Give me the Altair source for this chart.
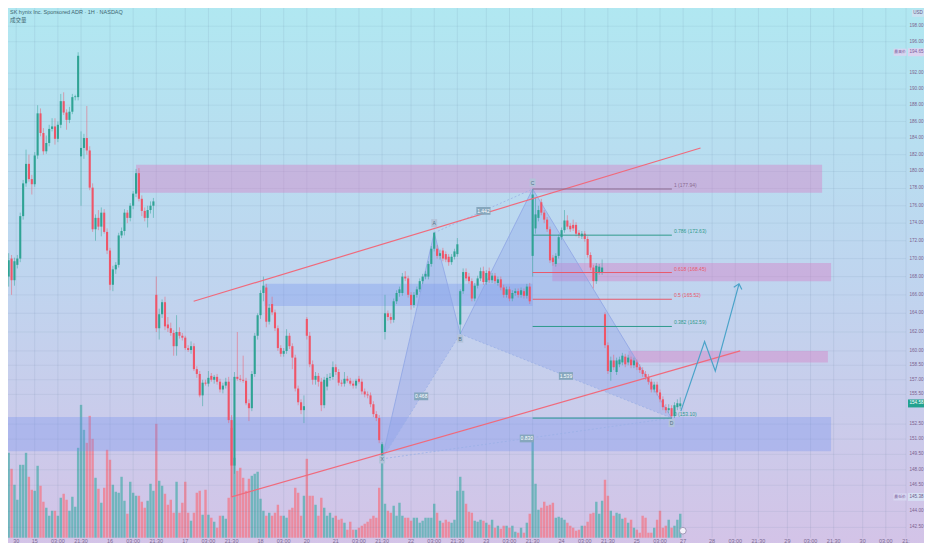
import math
import altair as alt
import pandas as pd

W, H = 916, 537
X_DOMAIN = [-0.92, 311.71]
Y_DOMAIN = [141.54, 201.27]
FONT = "Liberation Sans"
CJK = "Noto Sans CJK SC"

# ---------------- candles (open, high, low, close) ----------------
ohlc_a = [
    (168.0, 170.6, 166.9, 169.8), (170.0, 170.4, 166.0, 167.6), (167.6, 170.1, 167.0, 169.7),
    (169.3, 170.4, 168.9, 170.0), (170.0, 175.2, 169.6, 174.8), (174.8, 179.0, 174.4, 178.6),
    (178.6, 182.6, 178.2, 180.9), (180.9, 182.0, 178.8, 179.1), (179.1, 179.6, 177.3, 178.5),
    (178.5, 182.3, 178.2, 181.9), (181.9, 188.0, 181.5, 187.0), (187.0, 187.6, 184.2, 184.6),
    (184.6, 185.2, 182.0, 182.4), (182.4, 184.3, 182.1, 183.4), (183.4, 185.6, 183.0, 185.1),
    (185.1, 186.4, 184.8, 185.4), (185.4, 186.4, 183.2, 183.9), (183.9, 186.0, 183.5, 185.6),
    (185.6, 189.4, 185.2, 188.5), (188.5, 189.6, 186.8, 187.1), (187.1, 187.5, 185.0, 186.2),
    (186.2, 187.8, 185.8, 187.2), (187.2, 189.4, 186.9, 189.0), (189.0, 189.3, 188.6, 189.1),
    (189.0, 194.65, 188.6, 194.2),
]
ohlc_b = [
    (181.8, 184.8, 176.0, 182.8), (182.8, 184.5, 181.5, 184.0), (184.0, 187.9, 182.0, 182.5),
    (182.5, 183.0, 177.8, 178.1), (178.1, 178.6, 173.0, 173.3), (173.3, 175.0, 172.0, 174.6),
    (174.6, 175.5, 173.2, 173.6), (173.6, 175.8, 172.5, 175.2), (175.2, 175.6, 172.8, 173.0),
    (173.0, 173.4, 170.5, 170.9), (170.9, 171.2, 166.5, 167.1), (167.1, 169.2, 166.4, 168.8),
    (168.8, 169.6, 168.3, 169.3), (169.3, 172.9, 169.0, 172.6), (172.6, 173.5, 172.3, 173.1),
    (173.1, 175.6, 172.6, 175.2), (175.2, 175.5, 174.0, 174.6), (174.6, 176.3, 174.2, 176.0),
    (176.0, 177.7, 175.6, 177.4), (177.4, 180.3, 177.0, 179.8), (179.8, 180.4, 176.5, 176.8),
    (176.8, 177.2, 174.8, 175.4), (175.4, 175.8, 174.2, 174.6), (174.6, 176.0, 173.5, 175.5),
    (175.5, 176.5, 175.1, 176.0), (176.0, 176.9, 174.6, 176.5),
]
ohlc_c = [
    (166.0, 168.0, 162.0, 162.4), (162.4, 164.5, 161.2, 163.9), (163.9, 165.5, 163.5, 165.2),
    (165.2, 165.8, 162.2, 162.6), (162.8, 163.6, 162.0, 162.4), (162.4, 163.0, 161.6, 161.9),
    (161.9, 162.2, 159.5, 160.5), (160.5, 163.8, 159.5, 162.0), (162.0, 162.5, 161.3, 161.6),
    (161.6, 161.9, 161.1, 161.4), (161.4, 161.6, 160.1, 160.3), (160.3, 160.6, 159.9, 160.1),
    (160.1, 161.0, 159.7, 160.5), (160.5, 160.8, 157.9, 158.1), (158.1, 158.4, 157.2, 157.6),
    (157.6, 157.9, 155.2, 155.4), (155.4, 157.0, 154.3, 156.7), (156.7, 157.0, 156.4, 156.6),
    (156.6, 157.9, 156.3, 157.2), (157.4, 157.7, 156.8, 157.0), (157.0, 157.5, 156.6, 157.3),
    (157.3, 157.6, 156.5, 156.8), (156.8, 157.1, 155.7, 156.0), (156.0, 156.7, 155.6, 156.4),
    (156.4, 157.2, 156.1, 156.8),
]
ohlc_d = [
    (156.8, 157.3, 152.6, 152.9), (152.9, 153.4, 145.38, 148.4), (148.4, 157.8, 147.6, 157.3),
    (157.3, 162.0, 156.9, 157.1), (157.1, 157.5, 156.8, 157.0), (157.0, 159.5, 156.7, 156.9),
    (156.9, 157.2, 154.4, 154.6), (154.6, 155.0, 152.8, 154.1), (154.1, 157.9, 153.8, 157.6),
    (157.6, 161.9, 157.3, 161.6), (161.6, 164.0, 161.2, 163.8), (163.8, 166.5, 163.4, 166.2),
    (166.2, 168.0, 165.3, 167.0), (166.8, 167.2, 162.5, 163.1), (163.1, 165.0, 162.8, 164.6),
    (165.0, 165.8, 163.8, 164.1), (164.1, 164.4, 162.1, 162.4), (162.4, 162.7, 160.0, 160.3),
    (160.3, 160.6, 159.4, 159.7), (159.7, 160.3, 159.4, 160.0), (160.0, 162.3, 159.7, 161.6),
    (161.6, 161.9, 160.2, 160.5), (160.5, 160.8, 158.1, 159.3), (159.3, 159.6, 155.8, 156.1),
    (156.1, 156.4, 154.4, 154.7), (154.7, 155.0, 153.5, 153.9), (153.9, 155.4, 152.6, 154.3),
]
ohlc_e = [
    (163.4, 163.6, 161.2, 161.6), (161.6, 162.0, 158.3, 158.6), (158.6, 159.0, 156.5, 157.0),
    (157.0, 157.8, 156.5, 157.4), (157.4, 157.7, 156.3, 156.8), (156.8, 157.2, 153.8, 154.4),
    (154.4, 157.3, 154.1, 157.0), (156.3, 157.6, 155.9, 157.2), (157.2, 157.7, 156.9, 157.3),
    (157.3, 158.9, 157.0, 158.3), (158.3, 158.6, 157.5, 157.8), (157.8, 158.1, 156.4, 156.7),
    (156.7, 157.0, 156.3, 156.6), (156.6, 157.8, 156.3, 157.1), (157.1, 157.4, 156.7, 156.9),
    (156.9, 157.2, 156.4, 156.6), (156.6, 156.9, 156.1, 156.4), (156.4, 157.1, 156.1, 156.9),
    (157.1, 157.4, 156.6, 156.8), (156.8, 157.1, 155.5, 155.8), (155.8, 156.1, 155.2, 155.5),
    (155.5, 155.8, 155.1, 155.4), (155.4, 155.7, 154.2, 154.5), (154.5, 154.8, 153.2, 153.5),
    (153.5, 153.8, 152.8, 153.1), (153.1, 153.4, 150.6, 150.9), (149.3, 150.7, 149.06, 150.5),
]
ohlc_f = [
    (162.0, 166.0, 161.2, 164.0), (164.0, 164.3, 163.2, 163.6), (163.6, 164.0, 162.9, 163.3),
    (163.3, 165.6, 163.0, 165.3), (165.3, 166.5, 165.0, 166.2), (166.2, 166.9, 165.8, 166.6),
    (166.2, 168.4, 165.9, 168.0), (168.0, 168.6, 167.5, 167.8), (167.8, 168.1, 165.7, 166.0),
    (166.0, 166.3, 164.4, 164.9), (164.9, 166.3, 164.6, 166.0), (166.0, 166.9, 165.7, 166.6),
    (166.6, 167.8, 166.3, 167.5), (167.5, 168.3, 167.2, 168.0), (168.0, 168.6, 167.7, 168.3),
    (168.0, 169.7, 167.7, 169.4), (169.4, 171.4, 169.1, 171.1), (171.1, 173.0, 170.8, 172.9),
    (171.1, 171.5, 170.0, 170.3), (170.3, 171.0, 169.9, 170.6), (170.9, 171.2, 169.7, 170.0),
    (170.5, 170.8, 169.6, 169.9), (170.2, 170.5, 169.2, 169.6), (169.6, 170.5, 169.3, 170.2),
    (170.2, 171.1, 169.9, 170.8), (170.5, 172.3, 170.2, 171.6), (162.8, 166.6, 161.8, 166.4),
    (166.4, 168.9, 166.1, 168.5), (168.5, 168.9, 167.5, 167.8), (168.0, 168.4, 167.2, 167.5),
    (167.5, 167.8, 165.3, 165.6), (165.6, 167.3, 165.3, 167.0), (167.0, 168.1, 166.7, 167.8),
    (167.8, 169.0, 167.5, 168.6), (168.6, 169.1, 167.1, 167.4), (167.4, 168.7, 167.1, 168.4),
    (168.6, 169.0, 167.3, 167.6), (167.6, 168.4, 167.3, 168.1), (168.1, 168.4, 167.2, 167.5),
    (167.3, 168.0, 167.0, 167.7), (167.7, 168.0, 166.5, 166.8), (166.8, 167.1, 165.7, 166.0),
    (166.0, 166.9, 165.7, 166.6), (166.6, 166.9, 165.3, 165.6), (165.6, 166.5, 165.3, 166.2),
    (166.2, 166.7, 165.9, 166.4), (166.4, 166.7, 165.7, 166.0), (166.0, 166.8, 165.7, 166.5),
    (166.4, 166.7, 165.6, 165.9), (165.9, 167.2, 165.6, 166.9), (166.9, 167.3, 165.0, 165.3),
    (170.3, 177.94, 168.0, 177.3),
]
ohlc_g = [
    (173.4, 176.9, 172.8, 175.0), (174.6, 176.0, 174.2, 175.5), (176.4, 176.8, 174.9, 175.2),
    (175.2, 175.5, 174.0, 174.4), (174.4, 174.7, 173.0, 173.3), (173.3, 173.6, 169.5, 169.8),
    (170.1, 170.4, 169.2, 169.6), (169.4, 170.6, 169.1, 170.3), (170.3, 172.7, 170.0, 172.4),
    (172.4, 173.5, 172.1, 173.2), (173.2, 175.5, 172.9, 174.3), (174.3, 174.9, 173.3, 173.6),
    (173.7, 174.0, 173.0, 173.3), (173.8, 174.4, 173.1, 173.4), (173.8, 174.1, 172.5, 172.8),
    (172.9, 173.2, 172.3, 172.6), (172.5, 173.1, 172.2, 172.8), (172.8, 173.1, 171.9, 172.2),
    (172.2, 172.5, 170.1, 170.4), (170.4, 170.7, 168.7, 169.0), (169.0, 169.3, 166.7, 167.5),
    (167.5, 169.5, 167.2, 169.2), (168.5, 169.4, 168.2, 169.1), (168.5, 169.9, 168.2, 169.0),
    (163.9, 164.1, 160.3, 160.6),
]
ohlc_h = [
    (160.6, 160.9, 157.6, 157.9), (157.8, 159.4, 156.9, 159.0), (159.0, 159.6, 158.0, 158.3),
    (157.8, 159.3, 157.5, 159.0), (158.6, 159.4, 158.3, 159.1), (158.8, 159.8, 158.5, 159.5),
    (159.4, 159.7, 158.3, 158.6), (158.8, 159.6, 158.5, 159.3), (159.1, 159.4, 158.2, 158.5),
    (158.5, 159.3, 158.2, 159.0), (158.8, 159.1, 158.0, 158.3), (158.3, 158.6, 157.7, 158.0),
    (158.0, 158.3, 157.3, 157.6), (157.6, 157.9, 157.0, 157.3), (157.3, 157.6, 156.5, 156.8),
    (156.8, 157.1, 155.7, 156.0), (156.0, 156.8, 155.7, 156.5), (156.5, 156.8, 155.4, 155.7),
    (155.7, 156.0, 154.7, 155.0), (155.0, 155.3, 153.9, 154.2), (154.2, 154.5, 153.6, 153.9),
    (153.9, 154.5, 153.6, 154.1), (154.1, 154.4, 153.1, 153.3), (153.3, 154.7, 153.1, 154.4),
    (154.2, 155.0, 153.9, 154.6), (154.3, 155.2, 154.0, 154.58),
]

# ---------------- volume (relative units) ----------------
vol_a = [85, 69, 53, 38, 73, 73, 85, 61, 48, 47, 72, 52, 36, 30, 22, 27, 27, 22, 40, 44, 38, 27, 41, 31, 90,
         133, 108, 95, 122, 99, 60, 49, 35, 50, 88, 78, 53, 46, 45, 61, 37, 24, 56, 45, 42, 42, 36, 30, 37, 54, 47]
vol_b = [114, 57, 52, 44, 33, 38, 25, 56, 25, 35, 56, 25, 17, 25, 45, 47, 23, 48, 23, 20, 16, 10, 22, 22, 19]
vol_c = [40, 110, 80]
vol_d = [67, 70, 60, 47, 59, 62, 64, 66, 39, 27, 22, 25, 22, 25, 33, 22, 22, 20, 28, 30, 50, 45, 22, 42, 79,
         42, 42, 33, 22, 40, 30, 22, 25, 20, 22, 18, 19, 15, 8, 16, 8, 8, 10, 12, 14, 16, 19, 22, 20, 50, 92]
vol_e = [34, 27, 25, 32, 22, 35, 22, 20, 20, 17, 20, 20, 15, 17, 20, 20, 20, 34, 25, 17, 15, 18, 16, 15, 18,
         47, 61, 47, 34, 26, 25, 17, 16, 18, 17, 15, 13, 18, 10, 12, 9, 12, 12, 10, 12, 6, 5, 10, 5, 15, 24, 102]
vol_f = [54, 28, 30, 36, 32, 33, 35, 20, 21, 20, 18, 15, 12, 10, 7, 8, 12, 12, 16, 24, 25, 36, 24, 37, 58]
vol_g = [42, 27, 22, 25, 24, 19, 20, 15, 18, 10, 8, 5, 22, 20, 5, 5, 10, 18, 27, 10, 12, 18, 10, 12, 18, 24]

# ---------------- annotations ----------------
time_labels = ["30", "15", "03:00", "21:30", "16", "03:00", "21:30", "17", "03:00", "21:30", "18", "03:00",
               "20", "21", "03:00", "21:30", "22", "03:00", "21:30", "23", "03:00", "21:30", "24", "03:00",
               "21:30", "25", "03:00", "27", "28", "03:00", "21:30", "29", "03:00", "21:30", "30", "03:00", "21:"]
time_bars = [2.6, 9, 17, 25, 35, 43, 51, 61, 69, 77, 87, 95, 103, 113, 121, 129, 139, 147, 155, 165, 173, 181,
             191, 199, 207, 217, 225, 233, 243, 251, 259, 269, 277, 285, 295, 303, 310]
y_ticks = [198, 196, 192, 190, 188, 186, 184, 182, 180, 178, 176, 174, 172, 170, 168, 166, 164, 162, 160,
           158.5, 157, 155.5, 152.5, 151, 149.5, 148, 146.5, 144, 142.5]

zone_x1 = [44.0, 88.4, 187.8, 214.1, -0.92]
zone_x2 = [281.0, 181.0, 284.1, 283.0, 284.1]
zone_lo = [177.5, 164.8, 167.5, 158.8, 149.8]
zone_hi = [180.8, 167.2, 169.5, 160.0, 153.2]
zone_fill = ["#d77fc6", "#6f8ff0", "#d77fc6", "#d77fc6", "#6f8ff0"]
zone_op = [0.42, 0.32, 0.42, 0.42, 0.32]

trend_up_idx = [63.9, 239.0]
trend_up_px = [165.3, 182.8]
trend_lo_idx = [77.0, 252.7]
trend_lo_px = [145.38, 160.0]

fib_ratio = ["1", "0.786", "0.618", "0.5", "0.382", "0"]
fib_price = [177.94, 172.63, 168.45, 165.52, 162.59, 153.10]
fib_color = ["#8a6b90", "#2f9a8c", "#e8596b", "#e8596b", "#2f9a8c", "#2f9a8c"]
fib_from, fib_to = 181, 229.1

pat_name = ["X", "A", "B", "C", "D"]
pat_idx = [129, 147, 156, 181, 229]
pat_price = [149.06, 172.9, 161.8, 177.94, 153.1]
pat_label_price = [149.0, 174.0, 161.3, 178.7, 152.6]
ratio_pairs = [("X", "B"), ("A", "C"), ("B", "D"), ("X", "D")]
ratio_text = ["0.468", "1.442", "1.539", "0.830"]

proj_idx = [232.2, 240.4, 244.1, 252.3]
proj_price = [153.8, 161.0, 157.9, 167.2]

# ---------------- frames ----------------
all_ohlc = ohlc_a + ohlc_b + ohlc_c + ohlc_d + ohlc_e + ohlc_f + ohlc_g + ohlc_h
all_vol = vol_a + vol_b + vol_c + vol_d + vol_e + vol_f + vol_g
candles = pd.DataFrame([
    dict(idx=i, open=o, high=h, low=l, close=c, vol=v, up=int(c >= o))
    for i, ((o, h, l, c), v) in enumerate(zip(all_ohlc, all_vol))
])

xs = alt.Scale(domain=X_DOMAIN, nice=False, zero=False)
ys = alt.Scale(type="log", domain=Y_DOMAIN, nice=False, zero=False)


def X(f="idx"):
    return alt.X(f"{f}:Q", scale=xs, axis=None)


def Y(f):
    return alt.Y(f"{f}:Q", scale=ys, axis=None)


RED, GREEN = "#ef5568", "#2fa394"
cond = alt.condition("datum.up == 1", alt.value(GREEN), alt.value(RED))
cond_vol = alt.condition("datum.up == 1", alt.value("#5fb1b5"), alt.value("#ee8093"))

grad = alt.Gradient(gradient="linear",
                    stops=[alt.GradientStop(color="#b0e8f1", offset=0),
                           alt.GradientStop(color="#bfd5ef", offset=0.5),
                           alt.GradientStop(color="#d4c3e7", offset=1)],
                    x1=0, x2=0, y1=0, y2=1)
bg = alt.Chart(pd.DataFrame({"a": [0]})).mark_rect(color=grad).encode(
    x=alt.value(0), x2=alt.value(W + 16), y=alt.value(0), y2=alt.value(H + 13))

vol = alt.Chart(candles).mark_bar(size=2.4, opacity=0.85).encode(
    x=X(), y=alt.Y("vol:Q", scale=alt.Scale(domain=[0, H], nice=False, zero=True), axis=None), color=cond_vol)

tdf = pd.DataFrame({"bar": time_bars, "label": time_labels})
vgrid = alt.Chart(tdf).mark_rule(color="#5d7a9c", opacity=0.12, strokeWidth=1).encode(
    x=X("bar"), y=alt.value(0), y2=alt.value(H))
ydf = pd.DataFrame({"v": y_ticks, "t": [f"{v:.2f}" for v in y_ticks]})
hgrid = alt.Chart(ydf).mark_rule(color="#5d7a9c", opacity=0.10, strokeWidth=1).encode(
    y=Y("v"), x=alt.value(0), x2=alt.value(W - 10))
ylab = alt.Chart(ydf).mark_text(fontSize=4.6, font=FONT, color="#7b5f8f", align="right",
                                baseline="middle").encode(y=Y("v"), x=alt.value(W + 7.5), text="t:N")

zdf = pd.DataFrame({"x1": zone_x1, "x2": zone_x2, "lo": zone_lo, "hi": zone_hi, "fill": zone_fill, "op": zone_op})
zones = alt.Chart(zdf).mark_rect().encode(
    x=X("x1"), x2=alt.X2("x2"), y=Y("hi"), y2=alt.Y2("lo"),
    color=alt.Color("fill:N", scale=None), opacity=alt.Opacity("op:Q", scale=None))

P = {n: (i, p) for n, i, p in zip(pat_name, pat_idx, pat_price)}


def tri_rows(name, p, q, r):
    f = (q[0] - p[0]) / (r[0] - p[0])
    mid = math.exp(math.log(p[1]) + f * (math.log(r[1]) - math.log(p[1])))
    return [dict(tri=name, idx=p[0], hi=p[1], lo=p[1]),
            dict(tri=name, idx=q[0], hi=q[1], lo=mid),
            dict(tri=name, idx=r[0], hi=r[1], lo=r[1])]


tri_df = pd.DataFrame(tri_rows("XAB", P["X"], P["A"], P["B"]) + tri_rows("BCD", P["B"], P["C"], P["D"]))
tri = alt.Chart(tri_df).mark_area(color="#7f97ea", opacity=0.28).encode(
    x=X(), y=Y("hi"), y2=alt.Y2("lo"), detail="tri:N")


def seg_df(pairs):
    rows = []
    for k, (a, b) in enumerate(pairs):
        for n in (a, b):
            rows.append(dict(seg=k, idx=P[n][0], price=P[n][1]))
    return pd.DataFrame(rows)


pat_solid = alt.Chart(seg_df([("X", "A"), ("A", "B"), ("B", "C"), ("C", "D")])).mark_line(
    color="#8ea4e4", strokeWidth=0.8).encode(x=X(), y=Y("price"), detail="seg:N")
pat_dash = alt.Chart(seg_df(ratio_pairs)).mark_line(
    color="#9ab0e6", strokeWidth=0.8, strokeDash=[2, 2]).encode(x=X(), y=Y("price"), detail="seg:N")

ratio_df = pd.DataFrame([
    dict(idx=(P[a][0] + P[b][0]) / 2, price=math.sqrt(P[a][1] * P[b][1]), t=t)
    for (a, b), t in zip(ratio_pairs, ratio_text)])
BOX_WIDE = "M-1,-0.55L1,-0.55L1,0.55L-1,0.55Z"
BOX_TALL = "M-0.75,-1L0.75,-1L0.75,1L-0.75,1Z"
ratio_box = alt.Chart(ratio_df).mark_point(shape=BOX_WIDE, size=200, filled=True, opacity=1,
                                           color="#86a7bd").encode(x=X(), y=Y("price"))
ratio_txt = alt.Chart(ratio_df).mark_text(fontSize=5, font=FONT, color="#ffffff").encode(
    x=X(), y=Y("price"), text="t:N")

lbl_df = pd.DataFrame({"idx": pat_idx, "price": pat_label_price, "t": pat_name})
lbl_box = alt.Chart(lbl_df).mark_point(shape=BOX_TALL, size=64, filled=True, opacity=1,
                                       color="#b3c4da").encode(x=X(), y=Y("price"))
lbl_txt = alt.Chart(lbl_df).mark_text(fontSize=5, font=FONT, color="#4d6f84").encode(
    x=X(), y=Y("price"), text="t:N")

tr_df = pd.DataFrame({"line": ["u", "u", "l", "l"], "idx": trend_up_idx + trend_lo_idx,
                      "price": trend_up_px + trend_lo_px})
trend = alt.Chart(tr_df).mark_line(color="#f06a7c", strokeWidth=1.2).encode(
    x=X(), y=Y("price"), detail="line:N")

wick = alt.Chart(candles).mark_rule(strokeWidth=0.9, opacity=0.55).encode(
    x=X(), y=Y("low"), y2=alt.Y2("high"), color=cond)
body = alt.Chart(candles).mark_bar(size=2.1).encode(
    x=X(), y=Y("open"), y2=alt.Y2("close"), color=cond)

fib_df = pd.DataFrame({"x1": [fib_from] * 6, "x2": [fib_to] * 6, "xt": [fib_to + 0.7] * 6,
                       "level": fib_price, "col": fib_color,
                       "label": [f"{r} ({p:.2f})" for r, p in zip(fib_ratio, fib_price)]})
fib_lines = alt.Chart(fib_df).mark_rule(strokeWidth=1).encode(
    x=X("x1"), x2=alt.X2("x2"), y=Y("level"), color=alt.Color("col:N", scale=None))
fib_txt = alt.Chart(fib_df).mark_text(align="left", baseline="bottom", dy=-1, fontSize=5, font=FONT).encode(
    x=X("xt"), y=Y("level"), text="label:N", color=alt.Color("col:N", scale=None))

proj_df = pd.DataFrame({"idx": proj_idx, "price": proj_price, "o": list(range(len(proj_idx)))})
proj = alt.Chart(proj_df).mark_line(color="#4aa3c9", strokeWidth=1.2).encode(
    x=X(), y=Y("price"), order="o:Q")
CHEVRON = "M-0.8,0.9L0,0L0.8,0.9"
arrow = alt.Chart(proj_df.tail(1)).mark_point(shape=CHEVRON, size=110, filled=False, strokeWidth=1.2,
                                              color="#4aa3c9", angle=15, opacity=1).encode(x=X(), y=Y("price"))

time_txt = alt.Chart(tdf).mark_text(fontSize=5.5, font=FONT, color="#7b6a92", baseline="middle").encode(
    x=X("bar"), y=alt.value(H + 3), text="label:N")

TAG = "M-1,-0.5L1,-0.5L1,0.5L-1,0.5Z"
tag_df = pd.DataFrame({"price": [194.65, 154.58, 145.38], "t": ["194.65", "154.58", "145.38"],
                       "fill": ["#dcd3f0", "#23a290", "#d6dff3"], "fc": ["#7a5a9a", "#ffffff", "#6a5a8a"]})
tag_box = alt.Chart(tag_df).mark_point(shape=TAG, size=256, filled=True, opacity=1).encode(
    x=alt.value(W), y=Y("price"), color=alt.Color("fill:N", scale=None))
tag_txt = alt.Chart(tag_df).mark_text(fontSize=4.6, font=FONT, align="right").encode(
    x=alt.value(W + 7.5), y=Y("price"), text="t:N", color=alt.Color("fc:N", scale=None))
side_df = pd.DataFrame({"price": [194.65, 145.38], "t": ["最高价", "最低价"]})
side_box = alt.Chart(side_df).mark_point(shape="M-1,-0.55L1,-0.55L1,0.55L-1,0.55Z", size=169, filled=True,
                                         opacity=1, color="#d7d6f1").encode(x=alt.value(W - 16), y=Y("price"))
side_txt = alt.Chart(side_df).mark_text(fontSize=3.8, font=CJK, color="#7a5a9a").encode(
    x=alt.value(W - 16), y=Y("price"), text="t:N")

header = alt.layer(
    alt.Chart(pd.DataFrame({"t": ["SK hynix Inc. Sponsored ADR · 1H · NASDAQ"]})).mark_text(
        align="left", baseline="middle", fontSize=5.5, font=FONT, color="#3d6670").encode(
        x=alt.value(9), y=alt.value(11), text="t:N"),
    alt.Chart(pd.DataFrame({"t": ["成交量"]})).mark_text(
        align="left", baseline="middle", fontSize=5.5, font=CJK, color="#3d6670").encode(
        x=alt.value(9), y=alt.value(19), text="t:N"))
usd = alt.layer(
    alt.Chart(pd.DataFrame({"t": ["USD"]})).mark_point(shape="M-1,-0.6L1,-0.6L1,0.6L-1,0.6Z", size=144,
                                                       filled=True, opacity=1, color="#cbe2f1").encode(
        x=alt.value(W + 2), y=alt.value(12)),
    alt.Chart(pd.DataFrame({"t": ["USD"]})).mark_text(fontSize=4.6, font=FONT, color="#6a5a8a").encode(
        x=alt.value(W + 2), y=alt.value(12), text="t:N"))

marker = alt.Chart(pd.DataFrame({"idx": [232.9]})).mark_point(
    shape="circle", size=45, filled=True, color="#f4f1fa", stroke="#8f86a8", strokeWidth=0.8, opacity=1).encode(
    x=X(), y=alt.value(H - 7))

price_layer = alt.layer(
    hgrid, vgrid, zones, tri, pat_solid, pat_dash, wick, body, trend,
    fib_lines, fib_txt, proj, arrow, ratio_box, ratio_txt, lbl_box, lbl_txt,
    ylab, tag_box, tag_txt, side_box, side_txt, time_txt, marker
).resolve_scale(color="independent", opacity="independent")

chart = alt.layer(bg, vol, price_layer, header, usd).resolve_scale(y="independent").properties(
    width=W, height=H, background="#c8d4ee"
).configure_view(strokeWidth=0)

try:
    chart.properties(padding={"left": -8, "top": -8, "right": -8, "bottom": -8}).save(
        "out.html", embed_options={"renderer": "svg", "actions": False})
except Exception:
    chart.properties(padding=0).save("out.html", embed_options={"renderer": "svg", "actions": False})
